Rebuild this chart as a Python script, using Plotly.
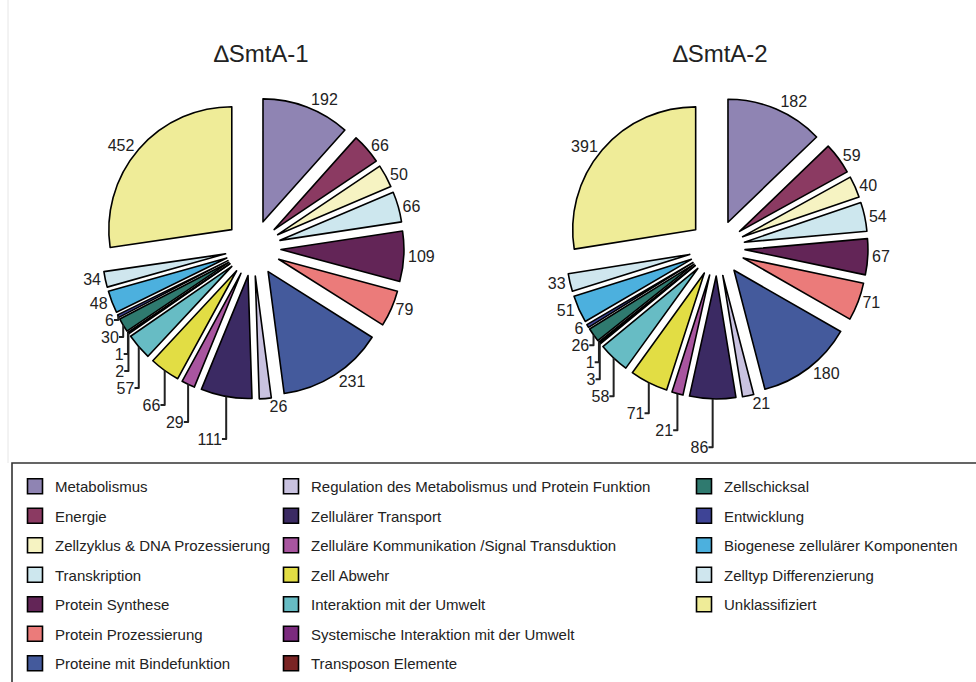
import plotly.graph_objects as go

categories = [
    "Metabolismus",
    "Energie",
    "Zellzyklus & DNA Prozessierung",
    "Transkription",
    "Protein Synthese",
    "Protein Prozessierung",
    "Proteine mit Bindefunktion",
    "Regulation des Metabolismus und Protein Funktion",
    "Zellulärer Transport",
    "Zelluläre Kommunikation /Signal Transduktion",
    "Zell Abwehr",
    "Interaktion mit der Umwelt",
    "Systemische Interaktion mit der Umwelt",
    "Transposon Elemente",
    "Zellschicksal",
    "Entwicklung",
    "Biogenese zellulärer Komponenten",
    "Zelltyp Differenzierung",
    "Unklassifiziert",
]
colors = [
    "#8f84b3", "#8b3a62", "#f6f3c2", "#cde7ee", "#632557", "#eb7b7a",
    "#445a9c", "#c9c2e0", "#3b2a63", "#a8559f", "#e2dd44", "#67bcc4",
    "#7b2a7e", "#7a2424", "#2f7a6f", "#3e4496", "#4cb0de", "#cfe6ee",
    "#efec98",
]
values_1 = [192, 66, 50, 66, 109, 79, 231, 26, 111, 29, 66, 57, 2, 1, 30, 6, 48, 34, 452]
values_2 = [182, 59, 40, 54, 67, 71, 180, 21, 86, 21, 71, 58, 3, 1, 26, 6, 51, 33, 391]
titles = ["∆SmtA-1", "∆SmtA-2"]
legend_columns = [list(range(0, 7)), list(range(7, 14)), list(range(14, 19))]

W, H = 976, 682
FONT = "Liberation Sans, Arial, sans-serif"

fig = go.Figure()

pull = 0.228
half = 151
centers = [(253, 248), (717, 248)]
for vals, (cx, cy) in zip([values_1, values_2], centers):
    fig.add_trace(go.Pie(
        labels=categories,
        values=vals,
        sort=False,
        direction="clockwise",
        rotation=0,
        pull=[pull] * len(vals),
        marker=dict(colors=colors, line=dict(color="black", width=1.6)),
        textinfo="value",
        textposition="outside",
        outsidetextfont=dict(family=FONT, size=16, color="#222222"),
        showlegend=False,
        hoverinfo="label+value",
        domain=dict(x=[(cx - half) / W, (cx + half) / W],
                    y=[1 - (cy + half) / H, 1 - (cy - half) / H]),
    ))

# legend entries (three columns)
legend_names = ["legend", "legend2", "legend3"]
for lname, idxs in zip(legend_names, legend_columns):
    for i in idxs:
        fig.add_trace(go.Scatter(
            x=[None], y=[None], mode="markers",
            marker=dict(symbol="square", size=15, color=colors[i],
                        line=dict(color="black", width=1.6)),
            name=categories[i], legend=lname, legendgroup=categories[i],
            hoverinfo="skip",
        ))

leg_common = dict(
    xanchor="left", yanchor="top", bgcolor="rgba(0,0,0,0)",
    tracegroupgap=7, font=dict(family=FONT, size=15, color="#222222"),
    itemclick=False, itemdoubleclick=False,
)
legend_x = [15, 271, 684]
legend_top = 470

annotations = []
for ttl, (cx, cy) in zip(titles, [(261, 53), (720, 53)]):
    annotations.append(dict(
        text=ttl, x=cx / W, y=1 - cy / H, xref="paper", yref="paper",
        showarrow=False, xanchor="center", yanchor="middle",
        font=dict(family=FONT, size=24, color="#222222"),
    ))

shapes = [
    dict(type="rect", xref="paper", yref="paper",
         x0=12 / W, x1=1.05, y0=-0.1, y1=1 - 463 / H,
         line=dict(color="#333333", width=1.6)),
    dict(type="line", xref="paper", yref="paper",
         x0=8 / W, x1=8 / W, y0=1 - 463 / H, y1=1,
         line=dict(color="#e6e6e6", width=1)),
]

fig.update_layout(
    width=W, height=H,
    margin=dict(l=0, r=0, t=0, b=0),
    paper_bgcolor="white", plot_bgcolor="white",
    xaxis=dict(visible=False), yaxis=dict(visible=False),
    annotations=annotations, shapes=shapes,
    legend=dict(x=legend_x[0] / W, y=1 - legend_top / H, **leg_common),
    legend2=dict(x=legend_x[1] / W, y=1 - legend_top / H, **leg_common),
    legend3=dict(x=legend_x[2] / W, y=1 - legend_top / H, **leg_common),
    font=dict(family=FONT),
)

fig.write_html("out.html")
